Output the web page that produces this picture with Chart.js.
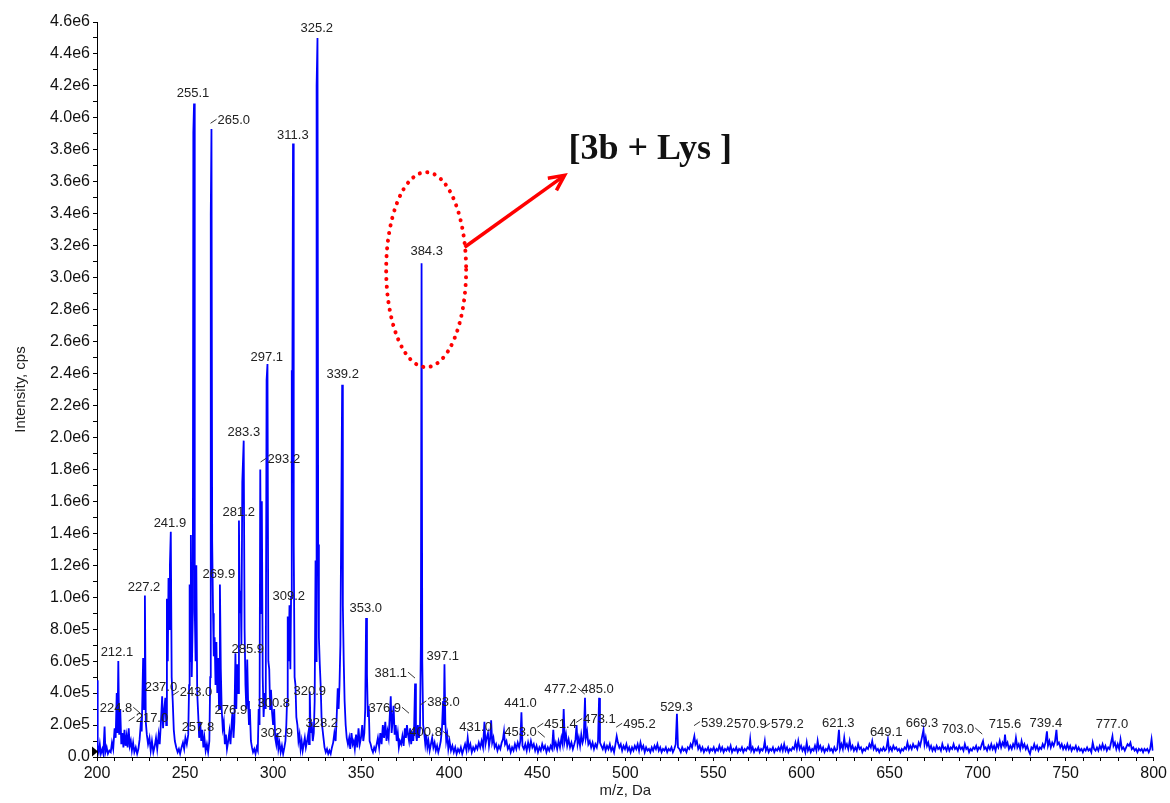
<!DOCTYPE html>
<html>
<head>
<meta charset="utf-8">
<script src="https://cdn.jsdelivr.net/npm/chart.js@4.4.1/dist/chart.umd.min.js"></script>
<style>
  body { margin: 0; background: #fff; }
</style>
</head>
<body>
<canvas id="spectrum" width="1170" height="803"></canvas>
<script>
// mass spectrum profile: [m/z (Da), intensity (x 1e6 cps)]
var spectrum = [
  [200.0,0.48],[200.4,0.06],[201,0.03],[201.6,0.08],[202.2,0.02],[203,0.05],[203.6,0.02],[204.3,0.19],[204.8,0.03],[205.5,0.06],
  [206.2,0.02],[207,0.04],[207.8,0.03],[208.5,0.09],[209.2,0.05],[210,0.18],[210.6,0.12],[211.2,0.4],[211.6,0.15],[212.1,0.6],
  [212.6,0.14],[213.2,0.3],[213.8,0.08],[214.4,0.15],[215,0.06],[215.6,0.17],[216.2,0.07],[216.8,0.13],[217.4,0.06],[218,0.18],
  [218.6,0.07],[219.2,0.1],[219.8,0.04],[220.5,0.09],[221.2,0.03],[222,0.06],[222.8,0.02],[223.5,0.05],[224.2,0.11],[224.8,0.2],
  [225.4,0.16],[226.2,0.62],[226.7,0.3],[227.2,1.01],[227.7,0.22],[228.3,0.14],[229,0.08],[229.8,0.12],[230.5,0.04],[231.2,0.1],
  [232,0.03],[232.8,0.07],[233.5,0.12],[234.2,0.05],[235,0.14],[235.6,0.08],[236.3,0.22],[237,0.38],[237.5,0.18],[238.2,0.3],
  [238.8,0.37],[239.3,0.2],[239.7,0.99],[240.2,0.6],[240.6,1.12],[241,0.8],[241.4,1.2],[241.9,1.41],[242.4,0.5],[243,0.35],
  [243.6,0.17],[244.2,0.1],[245,0.06],[245.8,0.03],[246.5,0.05],[247.2,0.02],[248,0.06],[248.8,0.09],[249.5,0.05],[250.2,0.12],
  [251,0.08],[251.8,0.14],[252.3,0.45],[252.6,1.08],[253,0.6],[253.3,1.39],[253.8,0.5],[254.4,0.9],[254.7,3.91],[255.1,4.09],
  [255.5,0.92],[256,0.6],[256.4,1.2],[256.9,0.4],[257.5,0.26],[258,0.12],[258.6,0.22],[259.2,0.1],[259.8,0.17],[260.4,0.06],
  [261,0.12],[261.7,0.04],[262.4,0.08],[263.1,0.03],[263.8,0.1],[264.3,0.5],[264.6,3.39],[265,3.93],[265.4,1.35],[265.9,0.9],
  [266.3,0.63],[266.8,0.75],[267.3,0.45],[267.8,0.72],[268.3,0.4],[268.8,0.62],[269.3,0.3],[269.8,1.08],[270.3,0.55],[270.8,0.3],
  [271.4,0.18],[272,0.22],[272.6,0.08],[273.2,0.14],[273.8,0.05],[274.5,0.1],[275.2,0.16],[275.8,0.08],[276.4,0.2],[276.9,0.28],
  [277.5,0.12],[278,0.22],[278.6,0.65],[279.1,0.3],[279.6,0.58],[280.2,0.4],[280.6,1.48],[281.1,0.9],[281.6,1.04],[282,0.7],
  [282.5,1.72],[283.3,1.98],[283.8,0.8],[284.3,0.45],[284.8,0.3],[285.3,0.61],[285.8,0.35],[286.3,0.2],[286.8,0.3],[287.4,0.1],
  [288,0.06],[288.6,0.03],[289.3,0.05],[290,0.02],[290.7,0.06],[291.3,0.04],[291.8,0.3],[292.3,0.2],[292.7,1.8],[293.2,0.9],
  [293.6,1.6],[294.1,0.5],[294.6,0.25],[295.2,0.4],[295.8,0.3],[296.3,2.36],[296.8,2.46],[297.3,0.6],[297.8,0.55],[298.3,0.3],
  [298.8,0.42],[299.4,0.28],[300,0.2],[300.6,0.3],[301.2,0.12],[301.8,0.08],[302.4,0.15],[303,0.05],[303.6,0.09],[304.3,0.03],
  [305,0.07],[305.7,0.02],[306.4,0.06],[307,0.1],[307.5,0.2],[307.9,0.35],[308.3,0.88],[308.8,0.6],[309.3,0.95],[309.8,0.55],
  [310.2,1.0],[310.6,2.42],[310.9,2.2],[311.3,3.84],[311.7,1.34],[312.2,0.5],[312.7,0.45],[313.2,0.25],[313.8,0.2],[314.4,0.1],
  [315,0.14],[315.6,0.05],[316.2,0.1],[316.8,0.04],[317.4,0.08],[318,0.12],[318.6,0.06],[319.3,0.1],[320,0.15],[320.4,0.08],
  [320.8,0.41],[321.3,0.15],[321.9,0.22],[322.5,0.1],[323.1,0.15],[323.6,0.35],[324.1,1.23],[324.4,0.6],[324.7,4.2],[325.2,4.5],
  [325.6,1.33],[326,0.75],[326.5,0.58],[327,0.45],[327.5,0.25],[328,0.18],[328.6,0.12],[329.2,0.06],[329.9,0.03],[330.6,0.05],
  [331.3,0.02],[332,0.04],[332.7,0.02],[333.4,0.06],[334.1,0.09],[334.8,0.15],[335.5,0.1],[336.1,0.25],[336.7,0.43],[337.2,0.3],
  [337.7,0.45],[338.2,0.7],[338.6,1.34],[339.2,2.33],[339.6,0.95],[340.1,0.6],[340.6,0.35],[341.2,0.2],[341.8,0.12],[342.5,0.08],
  [343.2,0.12],[343.8,0.05],[344.5,0.15],[345.2,0.08],[345.8,0.1],[346.4,0.05],[347.1,0.14],[347.8,0.06],[348.5,0.18],[349.2,0.08],
  [349.9,0.12],[350.6,0.2],[351.2,0.1],[351.8,0.15],[352.3,0.3],[352.8,0.87],[353.3,0.52],[353.8,0.25],[354.3,0.32],[354.8,0.1],
  [355.4,0.08],[356,0.05],[356.7,0.03],[357.4,0.06],[358.1,0.04],[358.8,0.08],[359.5,0.12],[360.2,0.06],[360.9,0.15],[361.6,0.08],
  [362.3,0.2],[363,0.12],[363.7,0.22],[364.4,0.1],[365,0.16],[365.6,0.12],[366.2,0.25],[366.8,0.38],[367.3,0.15],[367.8,0.22],
  [368.4,0.32],[369,0.14],[369.6,0.2],[370.2,0.1],[370.8,0.15],[371.4,0.06],[372,0.1],[372.7,0.08],[373.4,0.13],[374.1,0.07],
  [374.8,0.18],[375.4,0.12],[376,0.2],[376.6,0.14],[377.2,0.1],[377.8,0.18],[378.4,0.08],[379,0.16],[379.6,0.1],[380.1,0.2],
  [380.6,0.46],[381.1,0.15],[381.6,0.1],[382.2,0.2],[382.8,0.12],[383.4,0.18],[383.9,0.7],[384.3,3.09],[384.7,0.6],[385.2,0.2],
  [385.8,0.15],[386.4,0.08],[387,0.14],[387.6,0.06],[388.2,0.1],[388.9,0.04],[389.6,0.08],[390.3,0.12],[391,0.06],[391.7,0.09],
  [392.4,0.04],[393.1,0.07],[393.8,0.03],[394.5,0.06],[395.2,0.1],[395.9,0.18],[396.5,0.35],[396.9,0.2],[397.3,0.58],[397.8,0.22],
  [398.3,0.1],[398.9,0.14],[399.5,0.05],
  [400.2,0.1],[401,0.04],[401.8,0.07],[402.6,0.03],[403.4,0.06],[404.2,0.02],[405,0.05],[405.8,0.03],[406.6,0.06],[407.4,0.02],
  [408.2,0.05],[409,0.08],[409.8,0.04],[410.5,0.12],[411.2,0.05],[412,0.08],[412.8,0.03],[413.6,0.06],[414.4,0.04],[415.2,0.07],
  [416,0.05],[416.8,0.09],[417.6,0.06],[418.4,0.1],[419.2,0.06],[420,0.22],[420.6,0.08],[421.3,0.12],[422,0.15],[422.6,0.07],
  [423.3,0.12],[423.8,0.23],[424.4,0.09],[425.1,0.12],[425.8,0.06],[426.6,0.08],[427.4,0.04],[428.2,0.07],[429,0.05],[429.8,0.09],
  [430.5,0.11],[431.1,0.16],[431.7,0.08],[432.5,0.1],[433.3,0.05],[434.1,0.07],[434.9,0.03],[435.7,0.06],[436.5,0.04],[437.3,0.08],
  [438.1,0.05],[438.9,0.09],[439.7,0.06],[440.4,0.1],[441,0.28],[441.6,0.07],[442.4,0.05],[443.2,0.08],[444,0.04],[444.8,0.09],
  [445.6,0.05],[446.4,0.1],[447.2,0.06],[448,0.08],[448.8,0.04],[449.6,0.07],[450.4,0.03],[451.2,0.06],[452,0.04],[452.8,0.08],
  [453.6,0.05],[454.4,0.07],[455.2,0.03],[456,0.06],[456.8,0.04],[457.6,0.07],[458.4,0.05],[459.1,0.17],[459.7,0.06],[460.5,0.09],
  [461.3,0.05],[462.1,0.1],[462.9,0.06],[463.7,0.12],[464.4,0.08],[465,0.3],[465.6,0.1],[466.3,0.14],[467,0.07],[467.8,0.11],
  [468.6,0.06],[469.4,0.09],[470.2,0.05],[471,0.08],[471.7,0.11],[472.3,0.2],[472.9,0.08],[473.6,0.12],[474.3,0.07],[475,0.14],
  [475.7,0.09],[476.4,0.12],[477.1,0.37],[477.6,0.12],[478.3,0.16],[479,0.08],[479.8,0.1],[480.6,0.06],[481.4,0.09],[482.2,0.05],
  [483,0.08],[483.8,0.06],[484.5,0.1],[485.1,0.37],[485.6,0.09],[486.4,0.07],[487.2,0.05],[488,0.08],[488.8,0.04],[489.6,0.07],
  [490.4,0.05],[491.2,0.08],[492,0.04],[492.8,0.06],[493.6,0.03],[494.4,0.08],[495.1,0.13],[495.8,0.09],[496.6,0.06],[497.4,0.08],
  [498.2,0.04],[499,0.07],[499.8,0.05],[500.6,0.08],[501.4,0.04],[502.2,0.06],[503,0.03],[503.8,0.06],[504.6,0.04],[505.4,0.07],
  [506.2,0.05],[507,0.08],[507.8,0.04],[508.6,0.09],[509.4,0.05],[510.2,0.07],[511,0.03],[511.8,0.06],[512.6,0.04],[513.4,0.05],
  [514.2,0.03],[515,0.06],[515.8,0.04],[516.6,0.07],[517.4,0.05],[518.2,0.08],[519,0.04],[519.8,0.06],[520.6,0.03],[521.4,0.05],
  [522.2,0.04],[523,0.06],[523.8,0.03],[524.6,0.05],[525.4,0.04],[526.2,0.06],[527,0.03],[527.8,0.05],[528.6,0.08],[529.3,0.27],
  [529.9,0.06],[530.7,0.05],[531.5,0.03],[532.3,0.06],[533.1,0.04],[533.9,0.05],[534.7,0.03],[535.5,0.06],[536.3,0.05],[537.1,0.08],
  [537.9,0.06],[538.6,0.1],[539.2,0.13],[539.8,0.08],[540.6,0.1],[541.4,0.05],[542.2,0.07],[543,0.04],[543.8,0.06],[544.6,0.03],
  [545.4,0.05],[546.2,0.04],[547,0.06],[547.8,0.03],[548.6,0.05],[549.4,0.04],[550.2,0.06],[551,0.03],[551.8,0.05],[552.6,0.04],
  [553.4,0.07],[554.2,0.04],[555,0.06],[555.8,0.03],[556.6,0.05],[557.4,0.04],[558.2,0.06],[559,0.04],[559.8,0.07],[560.6,0.03],
  [561.4,0.05],[562.2,0.04],[563,0.06],[563.8,0.03],[564.6,0.05],[565.4,0.04],[566.2,0.06],[567,0.03],[567.8,0.05],[568.6,0.04],
  [569.4,0.06],[570.3,0.05],[570.9,0.11],[571.5,0.04],[572.3,0.06],[573.1,0.03],[573.9,0.05],[574.7,0.04],[575.5,0.06],[576.3,0.03],
  [577.1,0.05],[577.9,0.04],[578.6,0.06],[579.2,0.1],[579.8,0.04],[580.6,0.06],[581.4,0.03],[582.2,0.05],[583,0.04],[583.8,0.06],
  [584.6,0.03],[585.4,0.05],[586.2,0.04],[587,0.06],[587.8,0.04],[588.6,0.07],[589.4,0.04],[590.2,0.08],[591,0.04],[591.8,0.06],
  [592.6,0.03],[593.4,0.05],[594.2,0.04],[595,0.06],[595.8,0.05],[596.6,0.09],[597.4,0.05],[598.2,0.1],[599,0.05],[599.8,0.07],
  [600.6,0.04],[601.4,0.06],[602.2,0.03],[603,0.09],[603.7,0.04],[604.5,0.06],[605.3,0.03],[606.1,0.05],[606.9,0.04],[607.7,0.07],
  [608.5,0.04],[609.2,0.1],[609.9,0.05],[610.7,0.07],[611.5,0.04],[612.3,0.06],[613.1,0.03],[613.9,0.05],[614.7,0.04],[615.5,0.07],
  [616.3,0.04],[617.1,0.05],[617.9,0.03],[618.7,0.06],[619.5,0.04],[620.3,0.05],[621.3,0.17],[621.9,0.05],[622.7,0.08],[623.5,0.05],
  [624.3,0.12],[625,0.06],[625.8,0.08],[626.6,0.05],[627.4,0.1],[628.2,0.05],[629,0.07],[629.8,0.04],[630.6,0.06],[631.4,0.04],
  [632.2,0.08],[633,0.05],[633.8,0.06],[634.6,0.03],[635.4,0.05],[636.2,0.04],[637,0.06],[637.8,0.05],[638.6,0.08],[639.4,0.06],
  [640.2,0.1],[641,0.05],[641.8,0.07],[642.6,0.04],[643.4,0.05],[644.2,0.03],[645,0.05],[645.8,0.04],[646.6,0.06],[647.4,0.04],
  [648.2,0.05],[649.1,0.11],[649.8,0.04],[650.6,0.06],[651.4,0.04],[652.2,0.07],[653,0.05],[653.8,0.06],[654.6,0.04],[655.4,0.05],
  [656.2,0.03],[657,0.05],[657.8,0.04],[658.6,0.06],[659.4,0.05],[660.2,0.09],[661,0.05],[661.8,0.07],[662.6,0.05],[663.4,0.08],
  [664.2,0.06],[665,0.07],[665.8,0.05],[666.6,0.09],[667.4,0.07],[668.2,0.11],[669.3,0.17],[669.9,0.08],[670.6,0.12],[671.3,0.07],
  [672,0.09],[672.8,0.05],[673.6,0.07],[674.4,0.04],[675.2,0.06],[676,0.04],[676.8,0.07],[677.6,0.05],[678.4,0.06],[679.2,0.04],
  [680,0.08],[680.8,0.05],[681.6,0.06],[682.4,0.04],[683.2,0.07],[684,0.04],[684.8,0.06],[685.6,0.05],[686.4,0.08],[687.2,0.05],
  [688,0.06],[688.8,0.04],[689.6,0.07],[690.4,0.05],[691.2,0.06],[692,0.04],[692.8,0.08],[693.6,0.05],[694.4,0.06],[695.2,0.03],
  [696,0.05],[696.8,0.04],[697.6,0.06],[698.4,0.05],[699.2,0.07],[700,0.04],[700.8,0.06],[701.6,0.05],[702.4,0.08],[703.1,0.1],
  [703.8,0.05],[704.6,0.06],[705.4,0.04],[706.2,0.07],[707,0.05],[707.8,0.08],[708.6,0.05],[709.4,0.07],[710.2,0.04],[711,0.08],
  [711.8,0.06],[712.6,0.1],[713.4,0.06],[714.2,0.09],[715,0.07],[715.6,0.14],[716.2,0.07],[717,0.09],[717.8,0.05],[718.6,0.07],
  [719.4,0.05],[720.2,0.08],[721,0.06],[721.8,0.12],[722.6,0.06],[723.4,0.08],[724.2,0.05],[725,0.1],[725.8,0.06],[726.6,0.08],
  [727.4,0.05],[728.2,0.07],[729,0.04],[729.8,0.02],[730.6,0.06],[731.4,0.05],[732.2,0.08],[733,0.05],[733.8,0.07],[734.6,0.04],
  [735.4,0.06],[736.2,0.05],[737,0.08],[737.8,0.06],[738.6,0.09],[739.4,0.16],[740,0.07],[740.8,0.1],[741.6,0.06],[742.4,0.09],
  [743.2,0.07],[744,0.1],[744.8,0.17],[745.4,0.08],[746.2,0.09],[747,0.06],[747.8,0.08],[748.6,0.05],[749.4,0.07],[750.2,0.05],
  [751,0.08],[751.8,0.05],[752.6,0.07],[753.4,0.04],[754.2,0.06],[755,0.05],[755.8,0.07],[756.6,0.04],[757.4,0.06],[758.2,0.04],
  [759,0.05],[759.8,0.03],[760.6,0.05],[761.4,0.04],[762.2,0.06],[763,0.04],[763.8,0.05],[764.6,0.03],[765.4,0.09],[766.2,0.05],
  [767,0.04],[767.8,0.06],[768.6,0.04],[769.4,0.07],[770.2,0.05],[771,0.08],[771.8,0.05],[772.6,0.07],[773.4,0.04],[774.2,0.06],
  [775,0.05],[775.8,0.09],[776.6,0.13],[777.2,0.07],[778,0.09],[778.8,0.05],[779.6,0.08],[780.4,0.05],[781.2,0.11],[782,0.05],
  [782.8,0.06],[783.6,0.04],[784.4,0.06],[785.2,0.08],[786,0.07],[786.8,0.09],[787.6,0.05],[788.4,0.06],[789.2,0.04],[790,0.05],
  [790.8,0.03],[791.6,0.05],[792.4,0.04],[793.2,0.05],[794,0.03],[794.8,0.05],[795.6,0.04],[796.4,0.05],[797.2,0.03],[798,0.05],
  [798.8,0.11],[799.5,0.04]
];

// peak annotations: text, m/z and intensity (x 1e6) where the label sits, leader side
var peakLabels = [
  ['255.1', 254.5, 4.13, ''], ['265.0', 277.7, 3.96, 'L'], ['311.3', 311.2, 3.87, ''],
  ['325.2', 324.8, 4.54, ''], ['297.1', 296.4, 2.48, ''], ['384.3', 387.2, 3.14, ''],
  ['339.2', 339.5, 2.37, ''], ['241.9', 241.4, 1.44, ''], ['227.2', 226.7, 1.04, ''],
  ['283.3', 283.4, 2.01, ''], ['293.2', 306.1, 1.84, 'L'], ['281.2', 280.5, 1.51, ''],
  ['269.9', 269.2, 1.12, ''], ['309.2', 308.9, 0.98, ''], ['285.9', 285.6, 0.65, ''],
  ['212.1', 211.3, 0.63, ''], ['237.0', 236.3, 0.41, ''], ['243.0', 256.2, 0.38, 'L'],
  ['224.8', 210.8, 0.28, 'R'], ['217.0', 231.2, 0.22, 'L'], ['257.8', 257.3, 0.16, ''],
  ['276.9', 276.0, 0.27, ''], ['300.8', 300.4, 0.31, ''], ['302.9', 302.1, 0.125, ''],
  ['320.9', 320.8, 0.39, ''], ['328.2', 327.6, 0.19, ''], ['353.0', 352.6, 0.91, ''],
  ['376.9', 363.4, 0.28, 'R'], ['381.1', 366.8, 0.50, 'R'], ['383.0', 396.8, 0.32, 'L'],
  ['397.1', 396.3, 0.61, ''], ['400.8', 386.6, 0.13, 'R'], ['431.0', 415.0, 0.16, ''],
  ['441.0', 440.5, 0.31, ''], ['453.0', 440.5, 0.13, 'R'], ['451.4', 463.2, 0.18, 'L'],
  ['477.2', 463.2, 0.40, 'R'], ['485.0', 484.2, 0.40, ''], ['473.1', 485.3, 0.21, 'L'],
  ['495.2', 508.0, 0.18, 'L'], ['529.3', 529.0, 0.29, ''], ['539.2', 552.2, 0.19, 'L'],
  ['570.9', 571.0, 0.18, ''], ['579.2', 592.0, 0.18, 'L'], ['621.3', 620.9, 0.19, ''],
  ['649.1', 648.1, 0.13, ''], ['669.3', 668.5, 0.19, ''], ['703.0', 688.9, 0.15, 'R'],
  ['715.6', 715.6, 0.18, ''], ['739.4', 738.8, 0.19, ''], ['777.0', 776.3, 0.18, '']
];

// highlighted ion [3b + Lys] : ellipse, arrow and caption in data units
var callout = {
  text: '[3b + Lys ]',
  ellipse: { mz: 386.9, y: 3.05, rMz: 22.7, rY: 0.61 },
  arrowFrom: { mz: 408.7, y: 3.19 },
  arrowTo: { mz: 465.5, y: 3.64 },
  textAt: { mz: 467.7, y: 3.745 }
};

Chart.defaults.font.family = '"Liberation Sans", Arial, sans-serif';
Chart.defaults.color = '#222';

var annotate = {
  id: 'annotate',
  afterDraw: function(chart) {
    var c = chart.ctx, sx = chart.scales.x, sy = chart.scales.y;
    c.save();

    // peak labels
    c.font = '13px "Liberation Sans", Arial';
    c.fillStyle = '#222';
    c.strokeStyle = '#333';
    c.lineWidth = 1;
    c.textAlign = 'center';
    c.textBaseline = 'alphabetic';
    peakLabels.forEach(function(p) {
      var px = sx.getPixelForValue(p[1]), py = sy.getPixelForValue(p[2]);
      c.fillText(p[0], px, py);
      var w = c.measureText(p[0]).width;
      if (p[3] === 'L') {
        c.beginPath();
        c.moveTo(px - w / 2 - 1, py - 5);
        c.lineTo(px - w / 2 - 7, py - 1);
        c.stroke();
      } else if (p[3] === 'R') {
        c.beginPath();
        c.moveTo(px + w / 2 + 1, py - 5);
        c.lineTo(px + w / 2 + 8, py + 1);
        c.stroke();
      }
    });

    // small marker at the y origin
    var a = chart.chartArea, ty = sy.getPixelForValue(0.035);
    c.fillStyle = '#000';
    c.beginPath();
    c.moveTo(a.left - 5, ty - 5);
    c.lineTo(a.left + 1, ty);
    c.lineTo(a.left - 5, ty + 5);
    c.closePath();
    c.fill();

    // dotted ellipse
    var e = callout.ellipse;
    var ex = sx.getPixelForValue(e.mz), ey = sy.getPixelForValue(e.y);
    var rx = sx.getPixelForValue(e.mz + e.rMz) - ex;
    var ry = ey - sy.getPixelForValue(e.y + e.rY);
    c.strokeStyle = '#ff0000';
    c.lineWidth = 4;
    c.lineCap = 'round';
    c.setLineDash([0.1, 7.6]);
    c.beginPath();
    c.ellipse(ex, ey, rx, ry, 0, 0, Math.PI * 2);
    c.stroke();
    c.setLineDash([]);

    // arrow
    var x1 = sx.getPixelForValue(callout.arrowFrom.mz), y1 = sy.getPixelForValue(callout.arrowFrom.y);
    var x2 = sx.getPixelForValue(callout.arrowTo.mz), y2 = sy.getPixelForValue(callout.arrowTo.y);
    var ang = Math.atan2(y2 - y1, x2 - x1), head = 17;
    c.lineWidth = 3.5;
    c.lineCap = 'butt';
    c.lineJoin = 'miter';
    c.beginPath();
    c.moveTo(x1, y1);
    c.lineTo(x2 - 2 * Math.cos(ang), y2 - 2 * Math.sin(ang));
    c.stroke();
    c.beginPath();
    c.moveTo(x2 - head * Math.cos(ang - 0.45), y2 - head * Math.sin(ang - 0.45));
    c.lineTo(x2, y2);
    c.lineTo(x2 - head * Math.cos(ang + 0.45), y2 - head * Math.sin(ang + 0.45));
    c.stroke();

    // caption
    c.fillStyle = '#111';
    c.font = 'bold 36px "Liberation Serif", "Times New Roman", serif';
    c.textAlign = 'left';
    c.fillText(callout.text, sx.getPixelForValue(callout.textAt.mz), sy.getPixelForValue(callout.textAt.y));
    c.restore();
  }
};

var ctx = document.getElementById('spectrum').getContext('2d');
var chart = new Chart(ctx, {
  type: 'line',
  data: {
    datasets: [{
      data: spectrum.map(function(p) { return { x: p[0], y: p[1] }; }),
      borderColor: '#0000ff',
      borderWidth: 1.8,
      pointRadius: 0,
      tension: 0,
      fill: false
    }]
  },
  options: {
    responsive: false,
    animation: false,
    layout: { padding: { top: 22, right: 15, left: 0, bottom: 0 } },
    plugins: { legend: { display: false }, tooltip: { enabled: false } },
    scales: {
      x: {
        type: 'linear',
        min: 200,
        max: 800,
        afterFit: function(s) { s.height = 46; },
        border: { color: '#000', width: 1 },
        grid: { drawOnChartArea: false, drawTicks: true, tickLength: 4, color: '#000' },
        ticks: {
          stepSize: 10,
          autoSkip: false,
          maxTicksLimit: 100,
          maxRotation: 0,
          padding: 3,
          color: '#111',
          font: { size: 16 },
          callback: function(v) { return v % 50 === 0 ? String(v) : ''; }
        },
        title: { display: true, text: 'm/z, Da', color: '#222', font: { size: 15 }, padding: { top: 0, bottom: 3 } }
      },
      y: {
        min: 0,
        max: 4.6,
        afterFit: function(s) { s.width = 97; },
        border: { color: '#000', width: 1 },
        grid: { drawOnChartArea: false, drawTicks: true, tickLength: 4, color: '#000' },
        ticks: {
          stepSize: 0.1,
          autoSkip: false,
          maxTicksLimit: 100,
          padding: 3,
          color: '#111',
          font: { size: 16 },
          callback: function(v) {
            var k = Math.round(v * 10);
            if (k % 2) return '';
            if (k === 0) return '0.0';
            return (v * 1e6).toExponential(1).replace('e+', 'e');
          }
        },
        title: { display: true, text: 'Intensity, cps', color: '#222', font: { size: 15 }, padding: { top: 12, bottom: 0 } }
      }
    }
  },
  plugins: [annotate]
});
</script>
</body>
</html>
